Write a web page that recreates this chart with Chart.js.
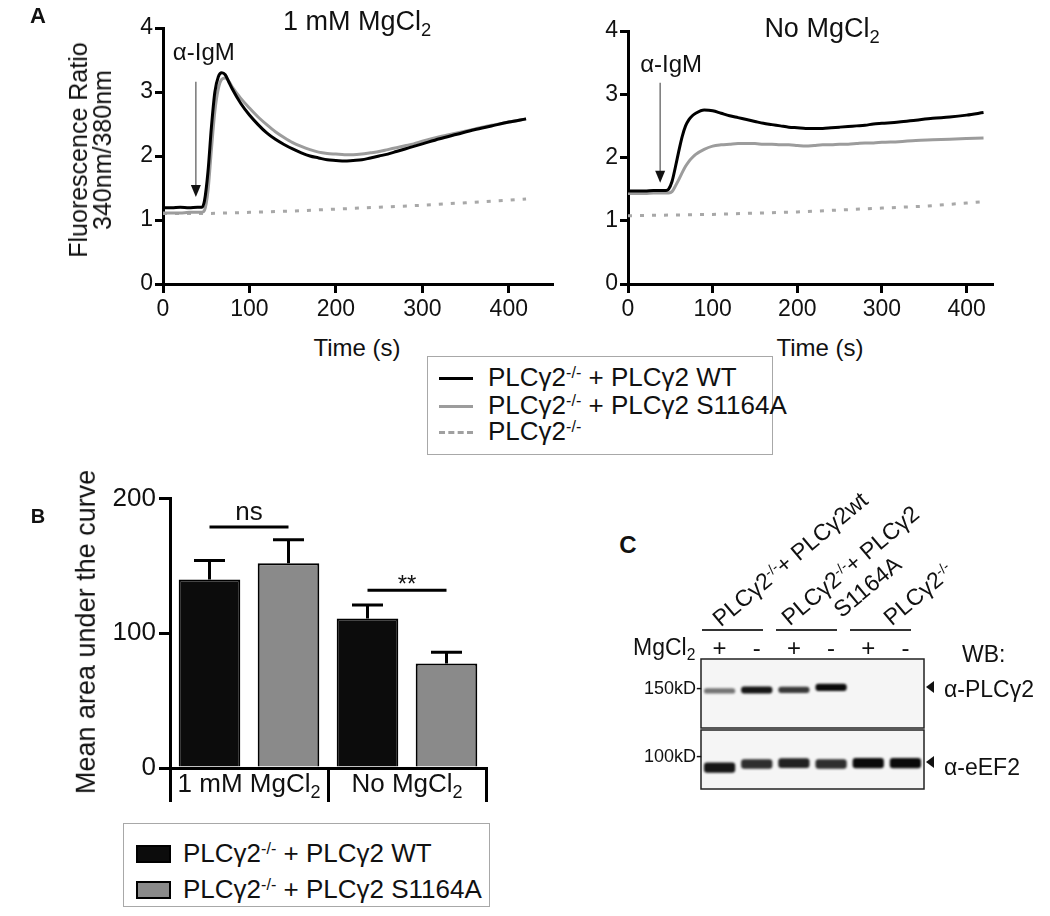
<!DOCTYPE html>
<html>
<head>
<meta charset="utf-8">
<script src="https://cdn.jsdelivr.net/npm/chart.js@4.4.1/dist/chart.umd.min.js"></script>
<style>
  body { margin: 0; background: #fff; }
  #fig { position: relative; width: 1050px; height: 916px; overflow: hidden; background: #fff;
         font-family: "Liberation Sans", Arial, sans-serif; color: #111; }
  #fig canvas { position: absolute; }
  .t { position: absolute; white-space: nowrap; line-height: 1.2; }
  sup { font-size: 0.62em; position: relative; top: -0.5em; vertical-align: baseline; }
  sub { font-size: 0.68em; position: relative; top: 0.3em; vertical-align: baseline; }
  .legend { position: absolute; border: 1.5px solid #a8a8a8; box-sizing: border-box; background: #fff; }
</style>
</head>
<body>
<div id="fig">
  <canvas id="a1" width="560" height="330" style="left:0;top:0"></canvas>
  <canvas id="a2" width="490" height="330" style="left:560px;top:0"></canvas>
  <canvas id="b" width="520" height="340" style="left:0;top:480px"></canvas>
  <canvas id="c1" width="250" height="90" style="left:690px;top:650px"></canvas>
  <canvas id="c2" width="250" height="76" style="left:690px;top:724px"></canvas>
</div>
<script>
// ---- A: calcium traces (fluorescence ratio 340/380 vs time) ----
const timeS = [0, 10, 20, 30, 40, 45, 48, 52, 56, 60, 64, 68, 72, 76, 80, 90, 100, 110, 120, 130,
  140, 150, 160, 170, 180, 190, 200, 210, 220, 230, 240, 250, 260, 270, 280, 290, 300,
  320, 340, 360, 380, 400, 420];
// 1 mM MgCl2
const mgWT = [1.19, 1.19, 1.2, 1.19, 1.2, 1.2, 1.3, 1.75, 2.45, 3.0, 3.24, 3.3, 3.27, 3.16, 3.05, 2.82, 2.64, 2.49, 2.36, 2.26,
  2.18, 2.11, 2.05, 2.0, 1.97, 1.94, 1.93, 1.92, 1.93, 1.94, 1.97, 2.0, 2.03, 2.07, 2.11, 2.15, 2.19,
  2.27, 2.34, 2.41, 2.47, 2.53, 2.58];
const mgMut = [1.11, 1.11, 1.11, 1.12, 1.12, 1.12, 1.15, 1.45, 2.1, 2.7, 3.05, 3.2, 3.22, 3.17, 3.08, 2.9, 2.75, 2.61, 2.49, 2.38,
  2.29, 2.21, 2.15, 2.1, 2.06, 2.04, 2.03, 2.02, 2.02, 2.03, 2.05, 2.07, 2.1, 2.13, 2.16, 2.19, 2.23,
  2.3, 2.36, 2.42, 2.48, 2.53, 2.58];
// No MgCl2
const noWT = [1.47, 1.47, 1.47, 1.48, 1.48, 1.48, 1.5, 1.62, 1.85, 2.1, 2.33, 2.5, 2.6, 2.66, 2.7, 2.75, 2.74, 2.7, 2.66, 2.63,
  2.6, 2.57, 2.54, 2.52, 2.5, 2.48, 2.47, 2.46, 2.46, 2.46, 2.47, 2.48, 2.49, 2.5, 2.51, 2.53, 2.54,
  2.56, 2.59, 2.62, 2.64, 2.67, 2.71];
const noMut = [1.43, 1.43, 1.43, 1.44, 1.44, 1.44, 1.44, 1.46, 1.55, 1.65, 1.76, 1.86, 1.94, 2.0, 2.05, 2.13, 2.18, 2.2, 2.21, 2.22,
  2.22, 2.22, 2.21, 2.21, 2.2, 2.2, 2.19, 2.18, 2.19, 2.2, 2.2, 2.21, 2.21, 2.22, 2.23, 2.23, 2.24,
  2.25, 2.27, 2.28, 2.29, 2.3, 2.31];
// knockout (dotted)
const koTime = [0, 50, 100, 150, 200, 250, 300, 350, 400, 420];
const mgKO = [1.1, 1.1, 1.12, 1.14, 1.17, 1.2, 1.23, 1.27, 1.31, 1.33];
const noKO = [1.08, 1.09, 1.1, 1.12, 1.14, 1.17, 1.2, 1.23, 1.28, 1.3];
const seriesA = ["PLCγ2^{-/-} + PLCγ2 WT", "PLCγ2^{-/-} + PLCγ2 S1164A", "PLCγ2^{-/-}"];

// ---- B: mean area under the curve ----
const conditions = ["1 mM MgCl_{2}", "No MgCl_{2}"];
const wtAUC = [140, 111];
const wtSEM = [14, 10];
const mutAUC = [152, 77.5];
const mutSEM = [17.5, 8.5];
const sigLabels = ["ns", "**"];
const sigLevels = [179, 132];
const seriesB = ["PLCγ2^{-/-} + PLCγ2 WT", "PLCγ2^{-/-} + PLCγ2 S1164A"];

// ---- C: western blot ----
const lanes = [1, 2, 3, 4, 5, 6];
const mgcl2Lanes = ["+", "-", "+", "-", "+", "-"];
const laneGroups = ["PLCγ2^{-/-}+ PLCγ2wt", "PLCγ2^{-/-}+ PLCγ2", "PLCγ2^{-/-}"];
const plcKD = [148.5, 149.5, 149.5, 152, null, null];
const plcSignal = [0.55, 0.95, 0.8, 1, 0, 0];
const eef2KD = [92.5, 95, 95.5, 95, 95.5, 95.5];
const eef2Signal = [0.95, 0.85, 0.9, 0.85, 1, 1];

const FONT = '"Liberation Sans", Arial, sans-serif';
Chart.defaults.font.family = FONT;
Chart.defaults.color = "#111";

const fig = document.getElementById("fig");

function rich(s) {
  return s.replace(/\^\{([^}]*)\}/g, "<sup>$1</sup>").replace(/_\{([^}]*)\}/g, "<sub>$1</sub>");
}
function plain(s) {
  return s.replace(/[\^_]\{([^}]*)\}/g, "$1");
}

// text div; (x, y) = anchor point, middle of the line
function addText(s, x, y, o) {
  o = o || {};
  const d = document.createElement("div");
  d.className = "t";
  d.innerHTML = rich(s);
  d.style.fontSize = (o.size || 23) + "px";
  if (o.bold) d.style.fontWeight = "bold";
  if (o.lh) d.style.lineHeight = o.lh + "px";
  d.style.textAlign = "center";
  d.style.left = x + "px";
  d.style.top = y + "px";
  const align = o.align || "center";
  const tx = { left: "0%", center: "-50%", right: "-100%" }[align];
  const ox = { left: "0%", center: "50%", right: "100%" }[align];
  d.style.transformOrigin = ox + " 50%";
  d.style.transform = `translate(${tx},-50%)` + (o.rot ? ` rotate(${o.rot}deg)` : "");
  fig.appendChild(d);
  return d;
}

function drawRich(ctx, s, x, y, size) {
  const segs = s.split(/(_\{[^}]*\}|\^\{[^}]*\})/).filter(Boolean).map((p) => {
    if (p[0] === "_") return { t: p.slice(2, -1), k: "sub" };
    if (p[0] === "^") return { t: p.slice(2, -1), k: "sup" };
    return { t: p, k: "" };
  });
  const f = (k) => `${k ? Math.round(size * 0.68) : size}px ${FONT}`;
  let w = 0;
  segs.forEach((sg) => { ctx.font = f(sg.k); sg.w = ctx.measureText(sg.t).width; w += sg.w; });
  let cx = x - w / 2;
  ctx.textAlign = "left";
  ctx.textBaseline = "middle";
  segs.forEach((sg) => {
    ctx.font = f(sg.k);
    const dy = sg.k === "sub" ? size * 0.3 : sg.k === "sup" ? -size * 0.35 : 0;
    ctx.fillText(sg.t, cx, y + dy);
    cx += sg.w;
  });
}

const pts = (xs, ys) => xs.map((x, i) => ({ x: x, y: ys[i] }));

// stimulus arrow (alpha-IgM)
const arrowPlugin = {
  id: "stimArrow",
  afterDatasetsDraw(chart, args, o) {
    const { ctx, scales: { x, y } } = chart;
    const px = x.getPixelForValue(o.t);
    const y0 = y.getPixelForValue(o.from);
    const y1 = y.getPixelForValue(o.to);
    ctx.save();
    ctx.strokeStyle = "#777";
    ctx.lineWidth = 1.5;
    ctx.beginPath();
    ctx.moveTo(px, y0);
    ctx.lineTo(px, y1 - 10);
    ctx.stroke();
    ctx.fillStyle = "#111";
    ctx.beginPath();
    ctx.moveTo(px - 5, y1 - 12);
    ctx.lineTo(px + 5, y1 - 12);
    ctx.lineTo(px, y1);
    ctx.closePath();
    ctx.fill();
    ctx.font = `24px ${FONT}`;
    ctx.textAlign = "left";
    ctx.textBaseline = "middle";
    ctx.fillText(o.label, px + o.dx, y.getPixelForValue(o.labelY));
    ctx.restore();
  },
};

function timeChart(id, wt, mut, ko, o) {
  return new Chart(document.getElementById(id), {
    type: "line",
    data: {
      datasets: [
        { label: plain(seriesA[0]), data: pts(timeS, wt), borderColor: "#000", borderWidth: 3 },
        { label: plain(seriesA[1]), data: pts(timeS, mut), borderColor: "#9c9c9c", borderWidth: 3 },
        { label: plain(seriesA[2]), data: pts(koTime, ko), borderColor: "#a8a8a8", borderWidth: 3,
          borderDash: [4, 8], cubicInterpolationMode: "default", tension: 0 },
      ],
    },
    options: {
      responsive: false,
      animation: false,
      layout: { padding: { top: o.top, right: o.right, left: 0, bottom: 0 } },
      elements: { point: { radius: 0 }, line: { cubicInterpolationMode: "monotone" } },
      plugins: { legend: { display: false }, tooltip: { enabled: false }, stimArrow: o.arrow },
      scales: {
        x: {
          type: "linear", min: 0, max: o.xMax,
          border: { color: "#000", width: 3 },
          grid: { drawOnChartArea: false, color: "#000", lineWidth: 3, tickLength: 9 },
          ticks: { stepSize: 100, includeBounds: false, maxRotation: 0, font: { size: 23 }, color: "#111", padding: 3 },
          afterFit(s) { s.height = 46; },
        },
        y: {
          min: 0, max: 4,
          border: { color: "#000", width: 3 },
          grid: { drawOnChartArea: false, color: "#000", lineWidth: 3, tickLength: 8 },
          ticks: { stepSize: 1, font: { size: 23 }, color: "#111", padding: 2 },
          afterFit(s) { s.width = o.yw; },
        },
      },
    },
    plugins: [arrowPlugin],
  });
}

timeChart("a1", mgWT, mgMut, mgKO, {
  top: 28, right: 8, yw: 163, xMax: 450,
  arrow: { t: 38, from: 3.16, to: 1.36, label: "α-IgM", dx: -23, labelY: 3.6 },
});
timeChart("a2", noWT, noMut, noKO, {
  top: 31, right: 58, yw: 68, xMax: 430,
  arrow: { t: 38, from: 3.18, to: 1.6, label: "α-IgM", dx: -20, labelY: 3.46 },
});

addText("A", 38, 16, { size: 22, bold: true });
addText("1 mM MgCl_{2}", 357, 21, { size: 27 });
addText("No MgCl_{2}", 822, 28, { size: 27 });
addText("Fluorescence Ratio<br>340nm/380nm", 90, 150, { size: 25, lh: 24, rot: -90 });
addText("Time (s)", 357, 348, { size: 24 });
addText("Time (s)", 820, 348, { size: 24 });

// legend A
(function () {
  const box = document.createElement("div");
  box.className = "legend";
  Object.assign(box.style, { left: "427px", top: "356px", width: "346px", height: "99px" });
  const styles = ["3px solid #000", "3px solid #9c9c9c", "3px dashed #a0a0a0"];
  const rowsY = [21, 49, 75];
  seriesA.forEach((s, i) => {
    const line = document.createElement("div");
    Object.assign(line.style, { position: "absolute", left: "11px", width: "34px", top: (rowsY[i] - 1.5) + "px",
      borderTop: styles[i] });
    box.appendChild(line);
    const t = document.createElement("div");
    t.className = "t";
    t.innerHTML = rich(s);
    Object.assign(t.style, { left: "60px", top: rowsY[i] + "px", fontSize: "26px", transform: "translateY(-50%)" });
    box.appendChild(t);
  });
  fig.appendChild(box);
})();

// ---- B ----
const errorBarPlugin = {
  id: "errorBars",
  afterDatasetsDraw(chart) {
    const { ctx, scales: { y } } = chart;
    ctx.save();
    ctx.strokeStyle = "#000";
    ctx.lineWidth = 3;
    chart.data.datasets.forEach((ds, di) => {
      chart.getDatasetMeta(di).data.forEach((bar, i) => {
        const top = y.getPixelForValue(ds.data[i] + ds.errors[i]);
        ctx.beginPath();
        ctx.moveTo(bar.x, bar.y);
        ctx.lineTo(bar.x, top);
        ctx.moveTo(bar.x - 15.5, top);
        ctx.lineTo(bar.x + 15.5, top);
        ctx.stroke();
      });
    });
    // significance
    sigLevels.forEach((lev, i) => {
      const x0 = chart.getDatasetMeta(0).data[i].x;
      const x1 = chart.getDatasetMeta(1).data[i].x;
      const py = y.getPixelForValue(lev);
      ctx.beginPath();
      ctx.moveTo(x0, py);
      ctx.lineTo(x1, py);
      ctx.stroke();
      ctx.fillStyle = "#111";
      ctx.font = `${i ? 24 : 26}px ${FONT}`;
      ctx.textAlign = "center";
      ctx.textBaseline = "alphabetic";
      ctx.fillText(sigLabels[i], (x0 + x1) / 2, py - (i ? -2 : 7));
    });
    ctx.restore();
  },
  afterDraw(chart) {
    const { ctx, scales: { x }, chartArea } = chart;
    ctx.save();
    ctx.fillStyle = "#111";
    conditions.forEach((c, i) => drawRich(ctx, c, x.getPixelForTick(i), chartArea.bottom + 17, 26));
    ctx.restore();
  },
};

new Chart(document.getElementById("b"), {
  type: "bar",
  data: {
    labels: conditions.map(plain),
    datasets: [
      { label: plain(seriesB[0]), data: wtAUC, errors: wtSEM, backgroundColor: "#0c0c0c", borderColor: "#000", borderWidth: 2 },
      { label: plain(seriesB[1]), data: mutAUC, errors: mutSEM, backgroundColor: "#8a8a8a", borderColor: "#000", borderWidth: 2 },
    ],
  },
  options: {
    responsive: false,
    animation: false,
    layout: { padding: { top: 13, right: 34, left: 0, bottom: 0 } },
    datasets: { bar: { categoryPercentage: 1.0, barPercentage: 0.78 } },
    plugins: { legend: { display: false }, tooltip: { enabled: false } },
    scales: {
      x: {
        border: { color: "#000", width: 3 },
        grid: { offset: true, drawOnChartArea: false, color: "#000", lineWidth: 3, tickLength: 34 },
        ticks: { display: false },
        afterFit(s) { s.height = 52; },
      },
      y: {
        min: 0, max: 200,
        border: { color: "#000", width: 3 },
        grid: { drawOnChartArea: false, color: "#000", lineWidth: 3, tickLength: 11 },
        ticks: { stepSize: 100, font: { size: 26 }, color: "#111", padding: 3 },
        afterFit(s) { s.width = 170; },
      },
    },
  },
  plugins: [errorBarPlugin],
});

addText("B", 38, 516, { size: 20, bold: true });
addText("Mean area under the curve", 86, 632, { size: 27, rot: -90 });

// legend B
(function () {
  const box = document.createElement("div");
  box.className = "legend";
  Object.assign(box.style, { left: "123px", top: "823px", width: "367px", height: "84px" });
  const fills = ["#0c0c0c", "#8a8a8a"];
  const rowsY = [30, 66];
  seriesB.forEach((s, i) => {
    const sw = document.createElement("div");
    Object.assign(sw.style, { position: "absolute", left: "12px", width: "35px", height: "18px", top: (rowsY[i] - 9) + "px",
      background: fills[i], border: "2px solid #000", boxSizing: "border-box" });
    box.appendChild(sw);
    const t = document.createElement("div");
    t.className = "t";
    t.innerHTML = rich(s);
    Object.assign(t.style, { left: "59px", top: rowsY[i] + "px", fontSize: "26px", transform: "translateY(-50%)" });
    box.appendChild(t);
  });
  fig.appendChild(box);
})();

// ---- C: blot drawn as floating bars ----
const blotPlugin = {
  id: "blot",
  beforeDatasetsDraw(chart) {
    const { ctx, chartArea: a } = chart;
    ctx.save();
    ctx.fillStyle = "#f5f5f5";
    ctx.fillRect(a.left, a.top, a.width, a.height);
    ctx.filter = "blur(1.3px)";
  },
  afterDatasetsDraw(chart) {
    const { ctx, chartArea: a } = chart;
    ctx.restore();
    ctx.save();
    ctx.strokeStyle = "#222";
    ctx.lineWidth = 1.5;
    ctx.strokeRect(a.left, a.top, a.width, a.height);
    ctx.restore();
  },
};

function blot(id, kd, signal, yMin, yMax, pad) {
  return new Chart(document.getElementById(id), {
    type: "bar",
    data: {
      labels: lanes,
      datasets: [{
        data: kd.map((v, i) => (v == null ? null : [v - 1.5 - 2 * signal[i], v + 1.5 + 2 * signal[i]])),
        backgroundColor: signal.map((s) => `rgba(10,10,10,${s})`),
        borderWidth: 0,
        borderRadius: 3,
        borderSkipped: false,
      }],
    },
    options: {
      responsive: false,
      animation: false,
      layout: { padding: pad },
      datasets: { bar: { categoryPercentage: 1.0, barPercentage: 0.84 } },
      plugins: { legend: { display: false }, tooltip: { enabled: false } },
      scales: {
        x: { display: false },
        y: { display: false, min: yMin, max: yMax },
      },
    },
    plugins: [blotPlugin],
  });
}

const blotTop = blot("c1", plcKD, plcSignal, 112, 180, { left: 11, top: 9, right: 16, bottom: 12 });
const blotBot = blot("c2", eef2KD, eef2Signal, 78, 118, { left: 11, top: 6, right: 16, bottom: 11 });

const laneX = (i) => 690 + blotTop.scales.x.getPixelForValue(i);
const kdTop = (v) => 650 + blotTop.scales.y.getPixelForValue(v);
const kdBot = (v) => 724 + blotBot.scales.y.getPixelForValue(v);

addText("C", 628, 545, { size: 24, bold: true });
addText("MgCl_{2}", 633, 648, { size: 23, align: "left" });
mgcl2Lanes.forEach((s, i) => addText(s, laneX(i), 648, { size: 24 }));

// group labels and lines
const groupLanes = [[0, 1], [2, 3], [4, 5]];
const groupStart = [[716, 622], [785, 621], [887, 621]];
groupLanes.forEach((g, k) => {
  const x0 = laneX(g[0]) - 18, x1 = laneX(g[1]) + 6;
  const ln = document.createElement("div");
  Object.assign(ln.style, { position: "absolute", left: x0 + "px", width: (x1 - x0) + "px", top: "629px",
    height: "1.5px", background: "#333" });
  fig.appendChild(ln);
  addText(laneGroups[k], groupStart[k][0], groupStart[k][1], { size: 23, align: "left", rot: -40 });
});
addText("S1164A", 837, 613, { size: 23, align: "left", rot: -40 });

addText("150kD-", 702, kdTop(150), { size: 18, align: "right" });
addText("100kD-", 702, kdBot(100), { size: 18, align: "right" });
[kdTop(152), kdBot(96)].forEach((py) => {
  const tri = document.createElement("div");
  Object.assign(tri.style, { position: "absolute", left: "926px", top: (py - 6) + "px", width: 0, height: 0,
    borderTop: "6px solid transparent", borderBottom: "6px solid transparent", borderRight: "8px solid #111" });
  fig.appendChild(tri);
});
addText("WB:", 962, 655, { size: 23, align: "left" });
addText("α-PLCγ2", 944, 690, { size: 23, align: "left" });
addText("α-eEF2", 944, 768, { size: 23, align: "left" });
</script>
</body>
</html>
